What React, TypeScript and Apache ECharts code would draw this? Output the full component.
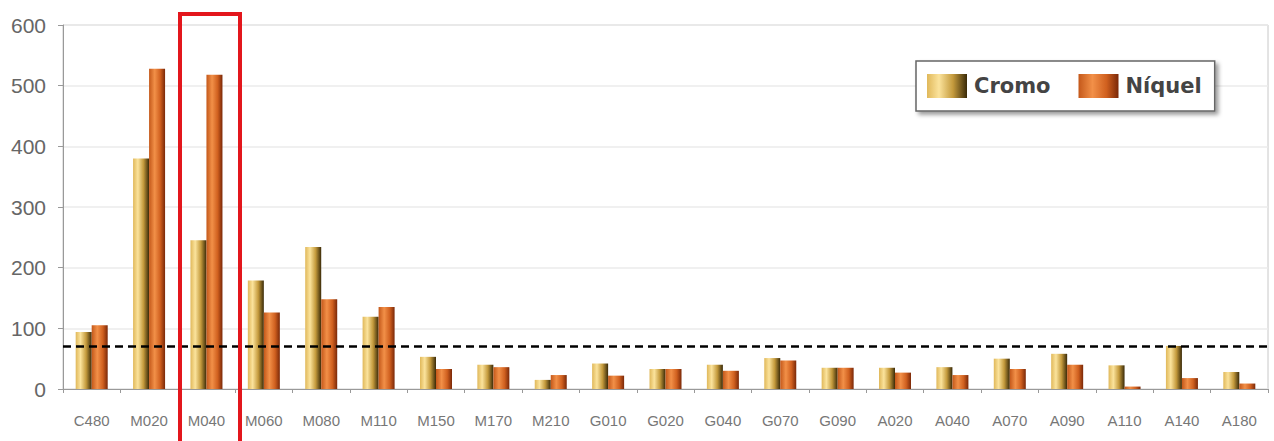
import React, { useEffect, useRef } from "react";
import * as echarts from "echarts";

const categories = ["C480", "M020", "M040", "M060", "M080", "M110", "M150", "M170", "M210", "G010", "G020", "G040", "G070", "G090", "A020", "A040", "A070", "A090", "A110", "A140", "A180"];
const cromo = [94, 380, 245, 179, 234, 119, 53, 40, 15, 42, 33, 40, 51, 35, 35, 36, 50, 58, 39, 71, 28];
const niquel = [105, 528, 518, 126, 148, 135, 33, 36, 23, 22, 33, 30, 47, 35, 27, 23, 33, 40, 4, 18, 9];
const threshold = 70;
const yTicks = [0, 100, 200, 300, 400, 500, 600];
const seriesNames = ["Cromo", "Níquel"];

export default function App() {
  const ref = useRef<HTMLDivElement>(null);
  useEffect(() => {
    document.body.style.margin = "0";
    const chart = echarts.init(ref.current!, null, { renderer: "svg" });
    const cromoGrad = new echarts.graphic.LinearGradient(0, 0, 1, 0, [
      { offset: 0, color: "#e0b85a" },
      { offset: 0.3, color: "#fbe39c" },
      { offset: 0.65, color: "#c49a3c" },
      { offset: 1, color: "#3a2a08" },
    ]);
    const niquelGrad = new echarts.graphic.LinearGradient(0, 0, 1, 0, [
      { offset: 0, color: "#c4581a" },
      { offset: 0.35, color: "#f29048" },
      { offset: 0.7, color: "#d0601f" },
      { offset: 1, color: "#7a2808" },
    ]);
    chart.setOption({
      animation: false,
      backgroundColor: "#ffffff",
      grid: {
        left: 63,
        right: 6,
        top: 25,
        bottom: 52,
        show: true,
        borderColor: "#c8c8c8",
        borderWidth: 1,
      },
      legend: {
        data: seriesNames,
        left: 916,
        top: 61,
        orient: "horizontal",
        icon: "rect",
        itemWidth: 40,
        itemHeight: 24,
        itemGap: 28,
        padding: [13, 13, 13, 11],
        backgroundColor: "#ffffff",
        borderColor: "#666666",
        borderWidth: 1.5,
        shadowBlur: 4,
        shadowOffsetX: 3,
        shadowOffsetY: 3,
        shadowColor: "rgba(0,0,0,0.4)",
        textStyle: {
          fontFamily: "DejaVu Sans",
          fontWeight: "bold",
          fontSize: 21,
          color: "#444444",
          padding: [0, 0, 0, 2],
        },
      },
      xAxis: {
        type: "category",
        data: categories,
        axisLine: { lineStyle: { color: "#999999", width: 1 } },
        axisTick: { show: true, length: 4, lineStyle: { color: "#999999" } },
        axisLabel: {
          fontFamily: "Liberation Sans",
          fontSize: 15,
          color: "#777777",
          margin: 24,
          interval: 0,
        },
      },
      yAxis: {
        type: "value",
        min: yTicks[0],
        max: yTicks[yTicks.length - 1],
        interval: 100,
        axisLine: { show: true, lineStyle: { color: "#999999", width: 1 } },
        axisTick: { show: true, length: 5, lineStyle: { color: "#999999" } },
        axisLabel: {
          fontFamily: "Liberation Sans",
          fontSize: 21,
          color: "#666666",
          margin: 17,
        },
        splitLine: { show: true, lineStyle: { color: "#ebebeb", width: 1.5 } },
      },
      series: [
        {
          name: seriesNames[0],
          type: "bar",
          data: cromo,
          barWidth: 16,
          barGap: "0%",
          itemStyle: { color: cromoGrad },
          markLine: {
            silent: true,
            symbol: ["none", "none"],
            label: { show: false },
            lineStyle: { color: "#000000", type: [8, 5], width: 2.5 },
            data: [{ yAxis: threshold }],
            z: 10,
          },
        },
        {
          name: seriesNames[1],
          type: "bar",
          data: niquel,
          barWidth: 16,
          itemStyle: { color: niquelGrad },
        },
      ],
      graphic: [
        {
          type: "rect",
          z: 100,
          shape: { x: 180, y: 14, width: 60, height: 450 },
          style: { fill: "none", stroke: "#e3161c", lineWidth: 4 },
        },
      ],
    });
    return () => chart.dispose();
  }, []);
  return <div ref={ref} style={{ width: 1274, height: 441 }} />;
}
